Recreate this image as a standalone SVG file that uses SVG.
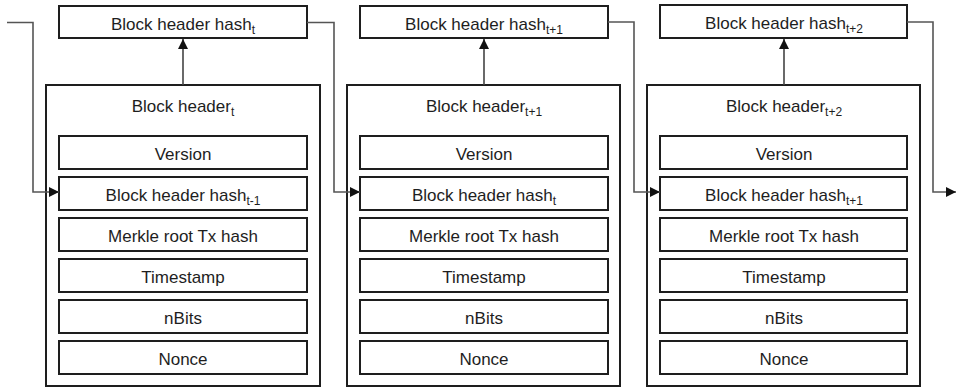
<svg xmlns="http://www.w3.org/2000/svg" width="956" height="390" viewBox="0 0 956 390">
<defs>
<style>
.box{fill:#fff;stroke:#1e1e1e;stroke-width:2}
.t{font-family:"Liberation Sans",Arial,sans-serif;font-size:17px;fill:#1e1e1e;text-anchor:middle}
.s{font-size:12px}
.c{fill:none;stroke:#555;stroke-width:1.6}
.up{fill:none;stroke:#444;stroke-width:1.6}
</style>
<marker id="ah" markerUnits="userSpaceOnUse" markerWidth="11" markerHeight="10" refX="10" refY="5" orient="auto">
<path d="M0,0 L10,5 L0,10 Z" fill="#111"/>
</marker>
</defs>
<g id="hash1"><rect class="box" x="59" y="6" width="248" height="32"/><text class="t" x="183" y="29.5">Block header hash<tspan class="s" dy="4">t</tspan></text></g>
<g id="hash2"><rect class="box" x="360" y="6" width="248" height="32"/><text class="t" x="484" y="29.5">Block header hash<tspan class="s" dy="4">t+1</tspan></text></g>
<g id="hash3"><rect class="box" x="660" y="5" width="247" height="33"/><text class="t" x="784" y="29">Block header hash<tspan class="s" dy="4">t+2</tspan></text></g>
<g id="block1">
<rect class="box" x="46" y="85" width="274" height="301"/>
<text class="t" x="183" y="112">Block header<tspan class="s" dy="4">t</tspan></text>
<rect class="box" x="59" y="136" width="248" height="33"/><text class="t" x="183" y="159.5">Version</text>
<rect class="box" x="59" y="177" width="248" height="33"/><text class="t" x="183" y="200.5">Block header hash<tspan class="s" dy="4">t-1</tspan></text>
<rect class="box" x="59" y="218" width="248" height="33"/><text class="t" x="183" y="241.5">Merkle root Tx hash</text>
<rect class="box" x="59" y="259" width="248" height="33"/><text class="t" x="183" y="282.5">Timestamp</text>
<rect class="box" x="59" y="300" width="248" height="33"/><text class="t" x="183" y="323.5">nBits</text>
<rect class="box" x="59" y="341" width="248" height="33"/><text class="t" x="183" y="364.5">Nonce</text>
</g>
<g id="block2">
<rect class="box" x="347" y="85" width="273" height="301"/>
<text class="t" x="484" y="112">Block header<tspan class="s" dy="4">t+1</tspan></text>
<rect class="box" x="360" y="136" width="248" height="33"/><text class="t" x="484" y="159.5">Version</text>
<rect class="box" x="360" y="177" width="248" height="33"/><text class="t" x="484" y="200.5">Block header hash<tspan class="s" dy="4">t</tspan></text>
<rect class="box" x="360" y="218" width="248" height="33"/><text class="t" x="484" y="241.5">Merkle root Tx hash</text>
<rect class="box" x="360" y="259" width="248" height="33"/><text class="t" x="484" y="282.5">Timestamp</text>
<rect class="box" x="360" y="300" width="248" height="33"/><text class="t" x="484" y="323.5">nBits</text>
<rect class="box" x="360" y="341" width="248" height="33"/><text class="t" x="484" y="364.5">Nonce</text>
</g>
<g id="block3">
<rect class="box" x="647" y="85" width="273" height="301"/>
<text class="t" x="784" y="112">Block header<tspan class="s" dy="4">t+2</tspan></text>
<rect class="box" x="660" y="136" width="247" height="33"/><text class="t" x="784" y="159.5">Version</text>
<rect class="box" x="660" y="177" width="247" height="33"/><text class="t" x="784" y="200.5">Block header hash<tspan class="s" dy="4">t+1</tspan></text>
<rect class="box" x="660" y="218" width="247" height="33"/><text class="t" x="784" y="241.5">Merkle root Tx hash</text>
<rect class="box" x="660" y="259" width="247" height="33"/><text class="t" x="784" y="282.5">Timestamp</text>
<rect class="box" x="660" y="300" width="247" height="33"/><text class="t" x="784" y="323.5">nBits</text>
<rect class="box" x="660" y="341" width="247" height="33"/><text class="t" x="784" y="364.5">Nonce</text>
</g>
<g id="connectors">
<path class="c" d="M7,22.5 H33 V192 H59" marker-end="url(#ah)"/>
<path class="c" d="M307,22.5 H334 V192 H360" marker-end="url(#ah)"/>
<path class="c" d="M608,22 H634 V192 H660" marker-end="url(#ah)"/>
<path class="c" d="M907,22 H933 V192 H956" marker-end="url(#ah)"/>
<path class="up" d="M183,85 V39" marker-end="url(#ah)"/>
<path class="up" d="M484,85 V39" marker-end="url(#ah)"/>
<path class="up" d="M784,85 V39" marker-end="url(#ah)"/>
</g>
</svg>
